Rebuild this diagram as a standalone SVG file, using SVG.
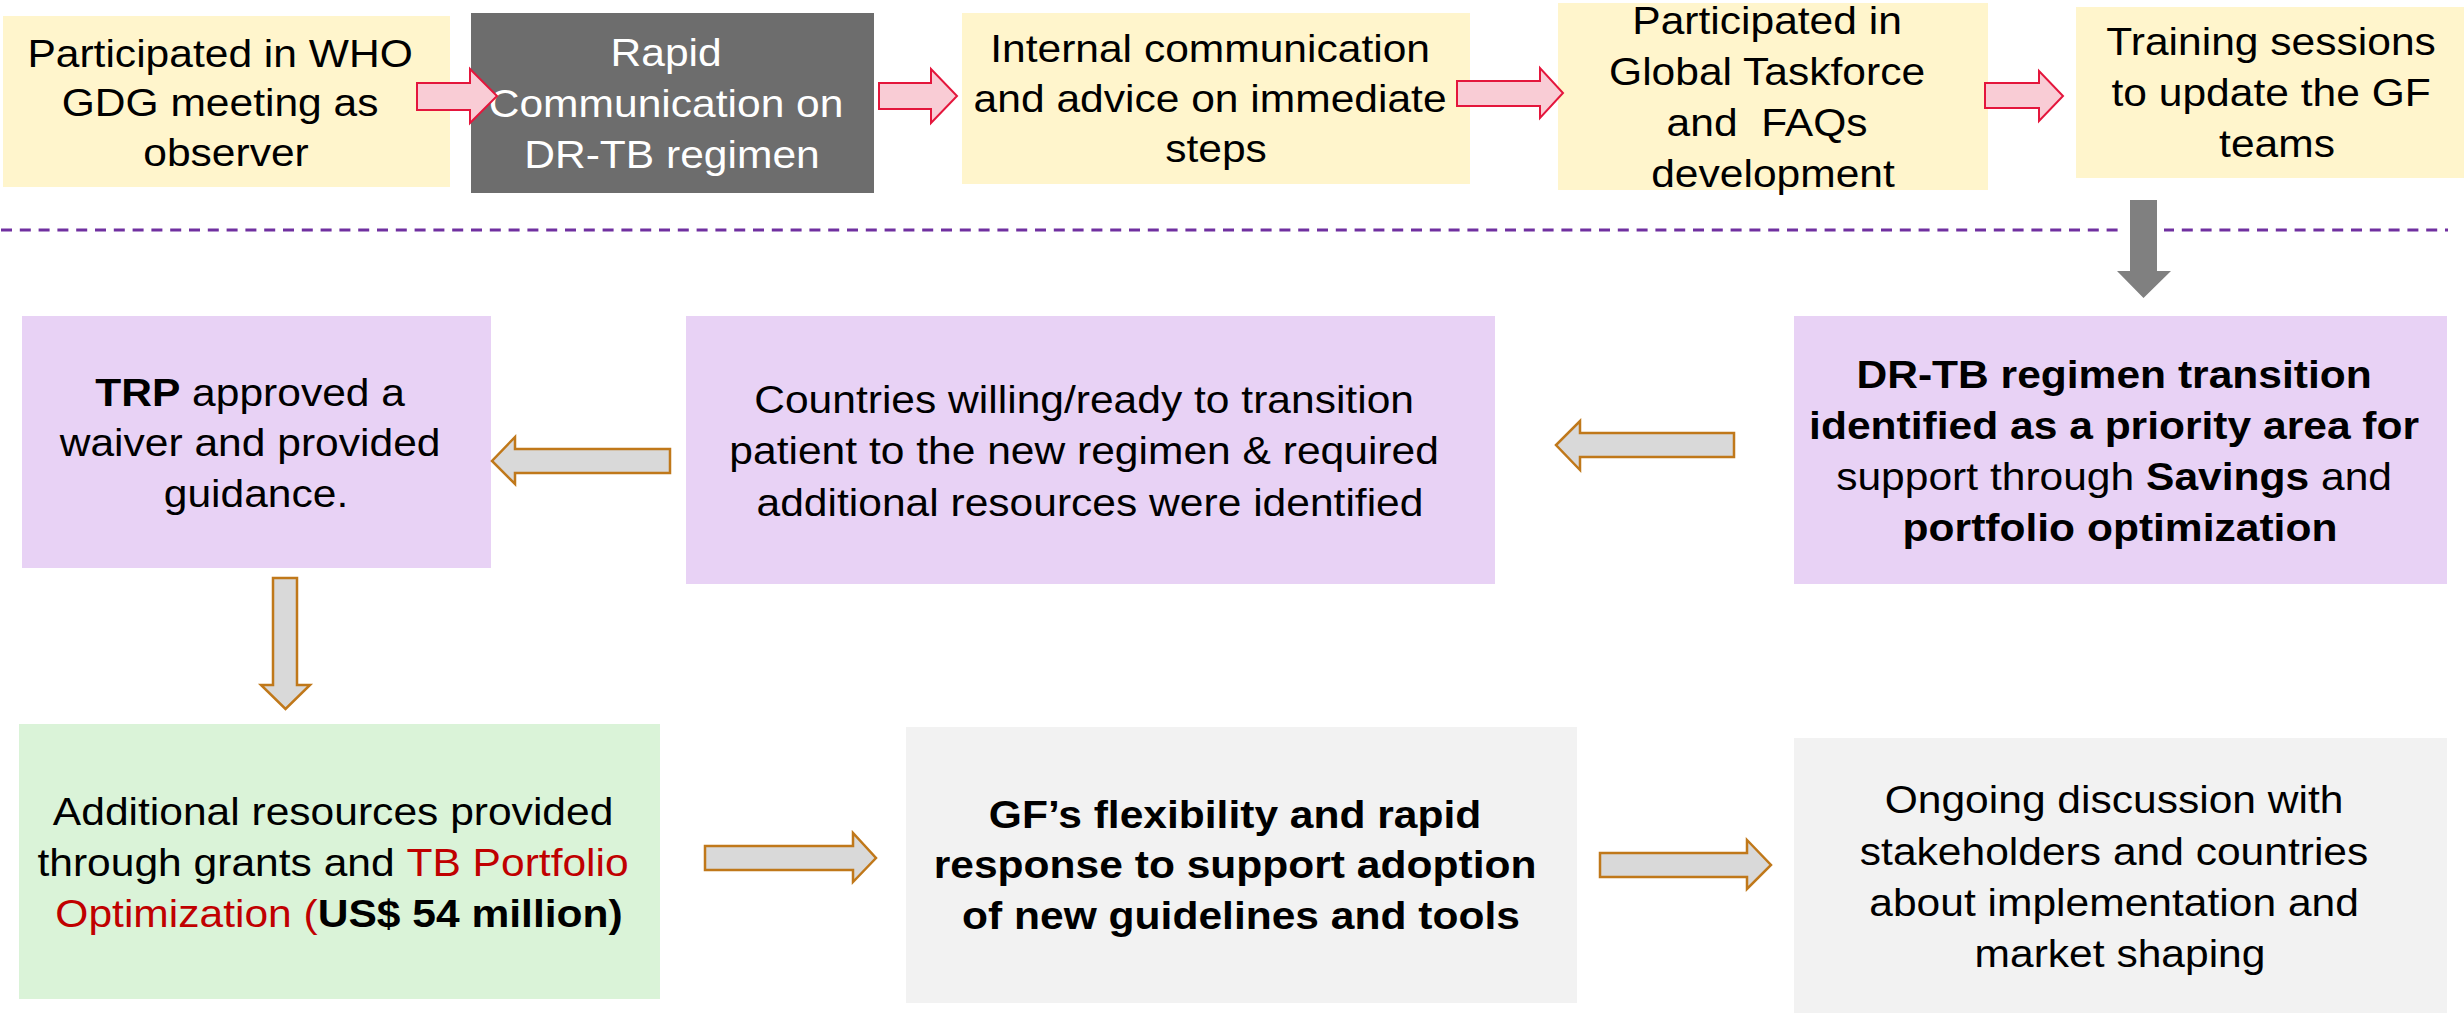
<svg xmlns="http://www.w3.org/2000/svg" width="2464" height="1014" viewBox="0 0 2464 1014">
  <style>
    .t { font-family: "Liberation Sans", Arial, sans-serif; font-size: 38px; fill: #000; text-anchor: middle; }
    .w { fill: #fff; }
    .b { font-weight: bold; }
    .red { fill: #C00000; }
    .yellow { fill: #FFF5CC; }
    .dark { fill: #6D6D6D; }
    .purple { fill: #E8D2F5; }
    .green { fill: #DAF3D8; }
    .grey { fill: #F2F2F2; }
    .pink-arrow { fill: #F9CCD5; stroke: #E4163C; stroke-width: 2; stroke-linejoin: miter; }
    .gold-arrow { fill: #D9D9D9; stroke: #C0781A; stroke-width: 2.5; stroke-linejoin: miter; }
    .divider { stroke: #7030A0; stroke-width: 3; stroke-dasharray: 11 7.8; fill: none; }
  </style>

  <rect x="0" y="0" width="2464" height="1014" fill="#fff"/>

  <!-- separator between the two phases -->
  <line class="divider" x1="1" y1="230" x2="2448" y2="230"/>

  <!-- top row -->
  <g id="who-gdg">
    <rect class="yellow" x="3" y="16" width="447" height="171"/>
    <text class="t" transform="matrix(1.12 0 0 1 226 0)">
      <tspan x="0" y="67">Participated in WHO</tspan>
      <tspan x="0" y="116">GDG meeting as</tspan>
      <tspan x="0" y="166">observer</tspan>
    </text>
  </g>

  <g id="rapid-communication">
    <rect class="dark" x="471" y="13" width="403" height="180"/>
    <text class="t w" transform="matrix(1.12 0 0 1 672 0)">
      <tspan x="0" y="66">Rapid</tspan>
      <tspan x="0" y="117">Communication on</tspan>
      <tspan x="0" y="168">DR-TB regimen</tspan>
    </text>
  </g>

  <g id="internal-communication">
    <rect class="yellow" x="962" y="13" width="508" height="171"/>
    <text class="t" transform="matrix(1.12 0 0 1 1216 0)">
      <tspan x="0" y="62">Internal communication</tspan>
      <tspan x="0" y="112">and advice on immediate</tspan>
      <tspan x="0" y="162">steps</tspan>
    </text>
  </g>

  <g id="global-taskforce">
    <rect class="yellow" x="1558" y="3" width="430" height="187"/>
    <text class="t" transform="matrix(1.12 0 0 1 1773 0)">
      <tspan x="0" y="34">Participated in</tspan>
      <tspan x="0" y="85">Global Taskforce</tspan>
      <tspan x="0" y="136">and&#160; FAQs</tspan>
      <tspan x="0" y="187">development</tspan>
    </text>
  </g>

  <g id="training-sessions">
    <rect class="yellow" x="2076" y="7" width="388" height="171"/>
    <text class="t" transform="matrix(1.12 0 0 1 2277 0)">
      <tspan x="0" y="55">Training sessions</tspan>
      <tspan x="0" y="106">to update the GF</tspan>
      <tspan x="0" y="157">teams</tspan>
    </text>
  </g>

  <!-- middle row -->
  <g id="trp-waiver">
    <rect class="purple" x="22" y="316" width="469" height="252"/>
    <text class="t" transform="matrix(1.12 0 0 1 256 0)">
      <tspan x="0" y="406"><tspan class="b">TRP</tspan> approved a</tspan>
      <tspan x="0" y="456">waiver and provided</tspan>
      <tspan x="0" y="507">guidance.</tspan>
    </text>
  </g>

  <g id="countries-ready">
    <rect class="purple" x="686" y="316" width="809" height="268"/>
    <text class="t" transform="matrix(1.12 0 0 1 1090 0)">
      <tspan x="0" y="413">Countries willing/ready to transition</tspan>
      <tspan x="0" y="464">patient to the new regimen &amp; required</tspan>
      <tspan x="0" y="516">additional resources were identified</tspan>
    </text>
  </g>

  <g id="priority-area">
    <rect class="purple" x="1794" y="316" width="653" height="268"/>
    <text class="t" transform="matrix(1.12 0 0 1 2120 0)">
      <tspan x="0" y="388" class="b">DR-TB regimen transition</tspan>
      <tspan x="0" y="439" class="b">identified as a priority area for</tspan>
      <tspan x="0" y="490">support through <tspan class="b">Savings</tspan> and</tspan>
      <tspan x="0" y="541" class="b">portfolio optimization</tspan>
    </text>
  </g>

  <!-- bottom row -->
  <g id="additional-resources">
    <rect class="green" x="19" y="724" width="641" height="275"/>
    <text class="t" transform="matrix(1.12 0 0 1 339 0)">
      <tspan x="0" y="825">Additional resources provided</tspan>
      <tspan x="0" y="876">through grants and <tspan class="red">TB Portfolio</tspan></tspan>
      <tspan x="0" y="927"><tspan class="red">Optimization (</tspan><tspan class="b">US$ 54 million)</tspan></tspan>
    </text>
  </g>

  <g id="gf-flexibility">
    <rect class="grey" x="906" y="727" width="671" height="276"/>
    <text class="t b" transform="matrix(1.12 0 0 1 1241 0)">
      <tspan x="0" y="828">GF’s flexibility and rapid</tspan>
      <tspan x="0" y="878">response to support adoption</tspan>
      <tspan x="0" y="929">of new guidelines and tools</tspan>
    </text>
  </g>

  <g id="ongoing-discussion">
    <rect class="grey" x="1794" y="738" width="653" height="275"/>
    <text class="t" transform="matrix(1.12 0 0 1 2120 0)">
      <tspan x="0" y="813">Ongoing discussion with</tspan>
      <tspan x="0" y="865">stakeholders and countries</tspan>
      <tspan x="0" y="916">about implementation and</tspan>
      <tspan x="0" y="967">market shaping</tspan>
    </text>
  </g>

  <!-- block arrows linking the steps -->
  <g id="connectors">
    <polygon class="pink-arrow" points="417,83 470,83 470,69 497,96 470,123 470,110 417,110"/>
    <polygon class="pink-arrow" points="879,83 931,83 931,69 957,96 931,123 931,109 879,109"/>
    <polygon class="pink-arrow" points="1457,81 1540,81 1540,68 1563,93 1540,118 1540,106 1457,106"/>
    <polygon class="pink-arrow" points="1985,83 2039,83 2039,71 2063,96 2039,121 2039,108 1985,108"/>

    <!-- drop from the top row into the middle row, with a white halo over the divider -->
    <polygon points="2130,200 2157,200 2157,271 2171,271 2143.5,298 2117,271 2130,271" fill="#fff" stroke="#fff" stroke-width="14" stroke-linejoin="round"/>
    <polygon points="2130,200 2157,200 2157,271 2171,271 2143.5,298 2117,271 2130,271" fill="#808080"/>

    <polygon class="gold-arrow" points="1734,433 1580,433 1580,421 1556,445 1580,470 1580,457 1734,457"/>
    <polygon class="gold-arrow" points="670,449 515,449 515,437 492,461 515,484 515,473 670,473"/>
    <polygon class="gold-arrow" points="273,578 297,578 297,685 310,685 285.5,709 261,685 273,685"/>
    <polygon class="gold-arrow" points="705,846 853,846 853,833 876,858 853,882 853,870 705,870"/>
    <polygon class="gold-arrow" points="1600,853 1747,853 1747,840 1771,865 1747,889 1747,877 1600,877"/>
  </g>
</svg>
